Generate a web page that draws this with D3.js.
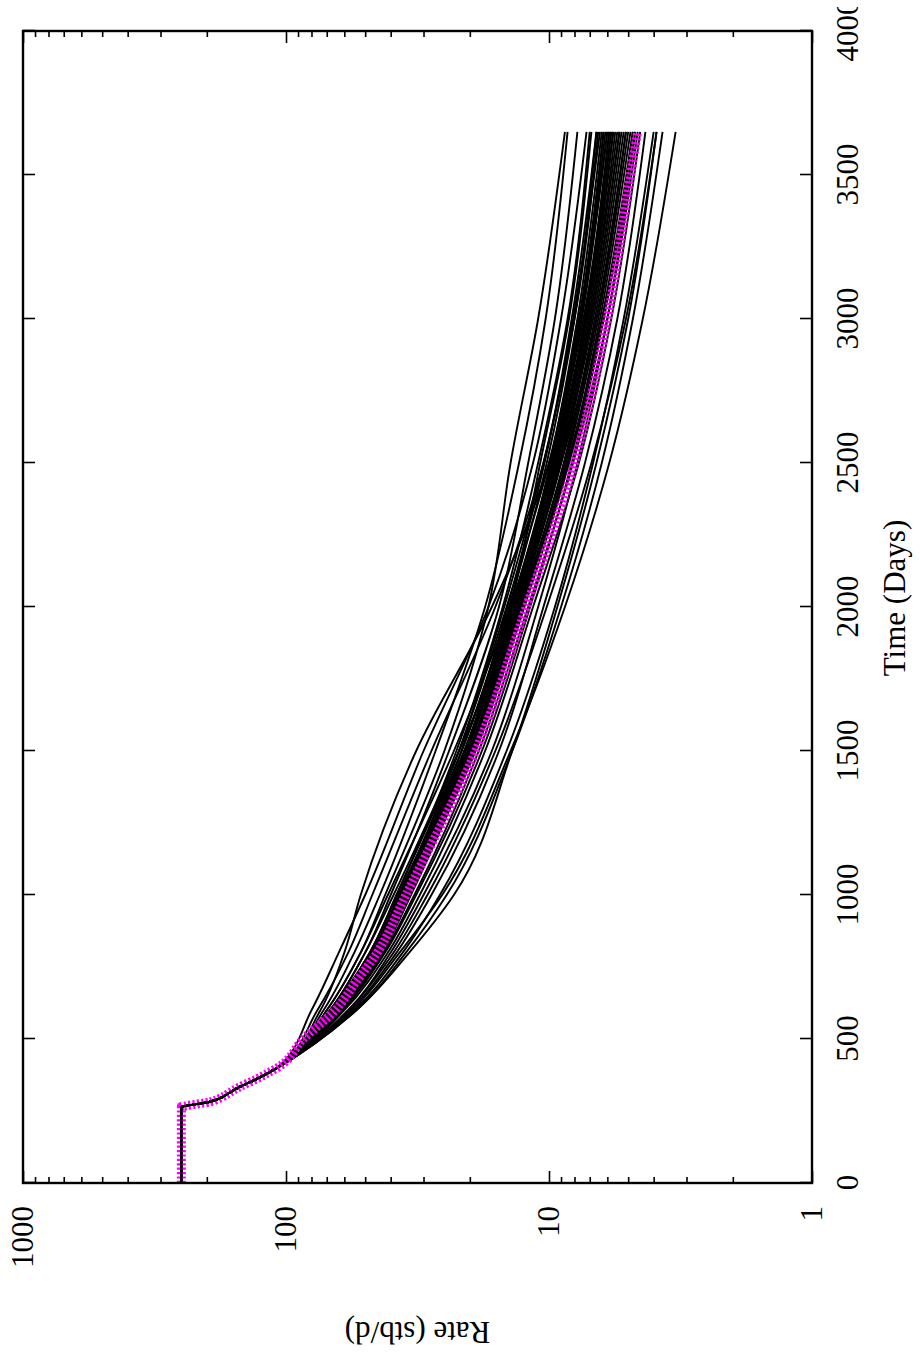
<!DOCTYPE html>
<html>
<head>
<meta charset="utf-8">
<script src="https://cdn.jsdelivr.net/npm/d3@7"></script>
<style>
  html, body { margin: 0; padding: 0; background: #fff; }
  svg { display: block; }
  text { font-family: "Liberation Serif", "Times New Roman", serif; fill: #000; }
</style>
</head>
<body>
<svg id="chart" width="920" height="1371"></svg>
<script>
// Shared production history (days, stb/d) followed by every realisation
const historyTimes = [0, 265, 268, 282, 295, 315, 334, 360, 386, 400];
const historyRates = [250, 250, 240, 194, 178, 163, 150, 130, 115, 108];

// Forecast times at which each realisation is sampled
const forecastTimes = [600, 800, 1000, 1500, 2000, 2500, 3000, 3650];

// Ensemble of forecast rates (stb/d), one row per realisation
const ensembleRates = [
  [80, 63, 50, 30, 17, 11.5, 9.0, 7.2],
  [76, 58, 47, 28, 16, 10.5, 8.2, 6.6],
  [74, 60, 52, 32, 16.5, 10.0, 7.6, 6.0],
  [72, 55, 44, 27, 17.5, 13.0, 10.3, 8.5],
  [70, 52, 42, 25, 17.0, 14.0, 11.0, 8.7],
  [68, 50, 40, 24, 15.5, 12.0, 9.5, 7.8],
  [68, 48, 38, 22, 14.5, 10.0, 7.7, 6.2],
  [67, 47, 37, 21.5, 14.0, 9.6, 7.3, 5.8],
  [66, 47, 37, 22, 14.8, 10.5, 8.0, 6.5],
  [66, 46, 36, 21, 13.5, 9.2, 7.0, 5.5],
  [67, 48, 37.5, 21, 13.2, 9.0, 6.9, 5.4],
  [65, 46, 36, 20.5, 13.8, 9.8, 7.6, 6.1],
  [66, 47, 36.5, 21.5, 14.2, 10.2, 8.0, 6.6],
  [64, 45, 35.5, 20.5, 13.4, 9.4, 7.3, 5.9],
  [65, 46, 36, 20, 13.0, 9.0, 6.8, 5.3],
  [64, 45, 35, 20, 13.6, 9.6, 7.5, 6.0],
  [65, 45.5, 35.5, 19.5, 12.8, 8.8, 6.7, 5.2],
  [66, 46, 35, 20.5, 14.0, 10.8, 8.4, 6.9],
  [63, 44, 34.5, 20, 13.2, 9.3, 7.1, 5.7],
  [64, 44, 34, 19.5, 13.0, 9.1, 7.0, 5.6],
  [65, 46, 36.5, 21, 13.6, 9.5, 7.2, 5.7],
  [63, 44.5, 35, 20.8, 14.4, 10.4, 8.1, 6.4],
  [66, 47, 37, 21.5, 13.8, 9.2, 6.9, 5.4],
  [64, 45, 35, 19.8, 12.9, 8.7, 6.6, 5.1],
  [63, 43.5, 34, 19.2, 12.6, 8.6, 6.5, 5.0],
  [65, 46, 36, 20.2, 13.3, 9.7, 7.6, 6.2],
  [67, 48, 38, 22.5, 15.0, 11.0, 8.5, 7.0],
  [62, 43, 33.5, 19.5, 13.1, 9.3, 7.2, 5.8],
  [64, 44.5, 34.5, 19.0, 12.4, 8.4, 6.4, 4.9],
  [63, 44, 34, 19.8, 13.4, 9.9, 7.8, 6.3],
  [66, 46.5, 36, 20.8, 13.9, 9.8, 7.4, 5.9],
  [65, 45, 35, 20.0, 12.7, 8.5, 6.3, 4.8],
  [60, 41, 31, 17.5, 11.5, 7.7, 5.8, 4.5],
  [58, 40, 30, 16.5, 11.0, 7.8, 6.0, 4.7],
  [57, 38, 28, 15.5, 10.5, 7.3, 5.5, 4.3],
  [55, 36, 26, 14.5, 9.5, 6.8, 5.2, 4.0],
  [54, 35, 24.5, 13.8, 9.0, 6.3, 4.8, 3.7],
  [56, 37, 25.5, 14.0, 8.7, 5.9, 4.4, 3.3],
  [54, 34, 23, 13.8, 9.3, 6.6, 5.0, 3.9],
  [58, 39, 29, 16.0, 10.2, 6.9, 5.1, 3.9],
  [61, 42, 32, 18.0, 11.8, 8.2, 6.2, 4.8],
  [62, 42.5, 32.5, 18.5, 12.0, 8.1, 6.0, 4.6],
  [70, 52, 41, 23, 14.0, 9.0, 6.6, 5.1],
  [68, 50, 39, 22, 13.0, 8.4, 6.2, 4.7]
];

// Reference (base case) forecast
const baseTimes = [500, 600, 700, 800, 1000, 1500, 2000, 2500, 3000, 3500, 3650];
const baseRates = [86, 65, 54, 45, 35, 19, 12.2, 8.0, 6.0, 4.9, 4.6];

// Axis ticks
const timeTicks = [0, 500, 1000, 1500, 2000, 2500, 3000, 3500, 4000];
const rateTicks = [1, 10, 100, 1000];
const rateMinorTicks = [2, 3, 4, 5, 6, 7, 8, 9, 20, 30, 40, 50, 60, 70, 80, 90, 200, 300, 400, 500, 600, 700, 800, 900];

// Landscape plot drawn in its own frame, then turned a quarter turn anticlockwise
const W = 1152, H = 789;
const svg = d3.select("#chart");

svg.append("defs").append("clipPath").attr("id", "pageclip")
  .append("rect").attr("x", 0).attr("y", 7).attr("width", 920).attr("height", 1364);

const root = svg.append("g").attr("clip-path", "url(#pageclip)");
const g = root.append("g").attr("transform", "translate(23,1183) rotate(-90)");

const x = d3.scaleLinear().domain([0, 4000]).range([0, W]);
const y = d3.scaleLog().domain([1, 1000]).range([H, 0]);

const line = d3.line()
  .x(d => x(d[0]))
  .y(d => y(d[1]))
  .curve(d3.curveMonotoneX);

const history = historyTimes.map((t, i) => [t, historyRates[i]]);

// Realisations
g.append("g")
  .selectAll("path")
  .data(ensembleRates)
  .join("path")
  .attr("d", row => line(history.concat(forecastTimes.map((t, i) => [t, row[i]]))))
  .attr("fill", "none")
  .attr("stroke", "#000")
  .attr("stroke-width", 1.9)
  .attr("stroke-linejoin", "round");

// Base case, drawn as a heavy magenta dashed trace
const base = history.concat(baseTimes.map((t, i) => [t, baseRates[i]]));
g.append("path")
  .attr("d", line(base))
  .attr("fill", "none")
  .attr("stroke", "#ff00ff")
  .attr("stroke-width", 9)
  .attr("stroke-dasharray", "2.2,2.2");

// History trace kept on top
g.append("path")
  .attr("d", line(history))
  .attr("fill", "none")
  .attr("stroke", "#000")
  .attr("stroke-width", 2.4);

// Axes with inward ticks, mirrored on the opposite sides
const fontSize = 31;

const xAxis = g.append("g").attr("transform", `translate(0,${H})`)
  .call(d3.axisBottom(x).tickValues(timeTicks).tickFormat(d3.format("d"))
    .tickSizeInner(-12).tickSizeOuter(0).tickPadding(24));
xAxis.select(".domain").remove();

const xAxisTop = g.append("g")
  .call(d3.axisTop(x).tickValues(timeTicks).tickFormat("")
    .tickSizeInner(-12).tickSizeOuter(0));
xAxisTop.select(".domain").remove();

const yAxis = g.append("g")
  .call(d3.axisLeft(y).tickValues(rateTicks).tickFormat(d3.format("d"))
    .tickSizeInner(-12).tickSizeOuter(0).tickPadding(23));
yAxis.select(".domain").remove();

const yMinor = g.append("g")
  .call(d3.axisLeft(y).tickValues(rateMinorTicks).tickFormat("")
    .tickSizeInner(-6).tickSizeOuter(0));
yMinor.select(".domain").remove();

const yAxisRight = g.append("g").attr("transform", `translate(${W},0)`)
  .call(d3.axisRight(y).tickValues(rateTicks).tickFormat("")
    .tickSizeInner(-12).tickSizeOuter(0));
yAxisRight.select(".domain").remove();

const yMinorRight = g.append("g").attr("transform", `translate(${W},0)`)
  .call(d3.axisRight(y).tickValues(rateMinorTicks).tickFormat("")
    .tickSizeInner(-6).tickSizeOuter(0));
yMinorRight.select(".domain").remove();

g.selectAll(".tick line").attr("stroke", "#000").attr("stroke-width", 1.6);
g.selectAll(".tick text")
  .attr("font-family", '"Liberation Serif", serif')
  .attr("font-size", fontSize)
  .attr("fill", "#000");

// Plot frame
g.append("rect")
  .attr("x", 0).attr("y", 0).attr("width", W).attr("height", H)
  .attr("fill", "none").attr("stroke", "#000").attr("stroke-width", 2.4);

// Axis titles
g.append("text")
  .attr("x", 585).attr("y", 882)
  .attr("text-anchor", "middle")
  .attr("font-size", fontSize)
  .text("Time (Days)");

g.append("text")
  .attr("transform", `translate(-139,${H / 2}) rotate(-90)`)
  .attr("text-anchor", "middle")
  .attr("font-size", fontSize)
  .text("Rate (stb/d)");
</script>
</body>
</html>
